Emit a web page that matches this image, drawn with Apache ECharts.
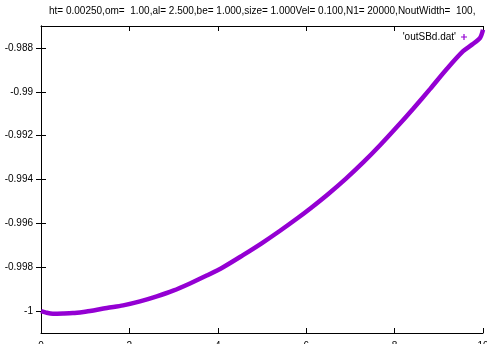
<!DOCTYPE html>
<html>
<head>
<meta charset="utf-8">
<script src="https://cdn.jsdelivr.net/npm/echarts@6/dist/echarts.min.js"></script>
<style>html,body{margin:0;padding:0;background:#fff;}#c{width:487px;height:344px;}</style>
</head>
<body>
<div id="c"></div>
<script>
var titleText = "ht= 0.00250,om=  1.00,al= 2.500,be= 1.000,size= 1.000Vel= 0.100,N1= 20000,NoutWidth=  100,";
var seriesName = "'outSBd.dat'";
var xValues = [0.00, 0.10, 0.27, 0.50, 0.72, 1.00, 1.11, 1.49, 1.86, 2.24, 2.62, 2.99, 3.37, 3.76, 4.12, 4.57, 5.00, 5.40, 5.80, 6.10, 6.50, 6.90, 7.30, 7.67, 8.05, 8.42, 8.80, 9.19, 9.55, 9.75, 9.93, 10.00];
var yValues = [-1.00000, -1.00006, -1.00012, -1.00011, -1.00009, -1.00003, -1.00000, -0.99986, -0.99974, -0.99956, -0.99933, -0.99907, -0.99874, -0.99837, -0.99800, -0.99745, -0.99690, -0.99635, -0.99577, -0.99531, -0.99466, -0.99396, -0.99320, -0.99244, -0.99161, -0.99077, -0.98988, -0.98894, -0.98815, -0.98785, -0.98755, -0.98717];
var yTicks = [-1, -0.998, -0.996, -0.994, -0.992, -0.99, -0.988];
var xTicks = [0, 2, 4, 6, 8, 10];

var data = xValues.map(function (x, i) { return [x, yValues[i]]; });
var font = 'Liberation Sans, Arial, sans-serif';
var chart = echarts.init(document.getElementById('c'), null, {renderer: 'canvas'});
function fmtY(v) { return String(parseFloat(Number(v).toFixed(4))); }
var lineStyleAxis = {color: '#000', width: 1};
chart.setOption({
  animation: false,
  backgroundColor: '#fff',
  title: {
    text: titleText, left: 49, top: 6,
    textStyle: {fontFamily: font, fontSize: 10, fontWeight: 'normal', color: '#000'},
    padding: 0
  },
  legend: {
    data: [{name: seriesName, icon: 'path://M4,0H6V4H10V6H6V10H4V6H0V4H4Z'}],
    right: 20, top: 32, align: 'right', itemWidth: 6, itemHeight: 6, itemGap: 6,
    textStyle: {fontFamily: font, fontSize: 10, color: '#000'},
    padding: 0
  },
  grid: {left: 41, right: 4, top: 26, bottom: 11, containLabel: false, outerBoundsMode: 'none'},
  xAxis: [{
    type: 'value', min: 0, max: 10, interval: 2,
    axisLine: {show: true, lineStyle: lineStyleAxis},
    axisTick: {show: true, inside: true, length: 5, lineStyle: lineStyleAxis, customValues: xTicks},
    axisLabel: {margin: 8, fontFamily: font, fontSize: 10, color: '#000', customValues: xTicks, hideOverlap: false},
    splitLine: {show: false}
  }, {
    type: 'value', position: 'top', min: 0, max: 10, interval: 2,
    axisLine: {show: true, lineStyle: lineStyleAxis},
    axisTick: {show: true, inside: true, length: 5, lineStyle: lineStyleAxis, customValues: xTicks},
    axisLabel: {show: false}, splitLine: {show: false}
  }],
  yAxis: [{
    type: 'value', min: -1.001, max: -0.987,
    axisLine: {show: true, lineStyle: lineStyleAxis},
    axisTick: {show: true, inside: true, length: 5, lineStyle: lineStyleAxis, customValues: yTicks},
    axisLabel: {margin: 8, fontFamily: font, fontSize: 10, color: '#000', customValues: yTicks, formatter: fmtY},
    splitLine: {show: false}
  }, {
    type: 'value', position: 'right', min: -1.001, max: -0.987,
    axisLine: {show: true, lineStyle: lineStyleAxis},
    axisTick: {show: true, inside: true, length: 5, lineStyle: lineStyleAxis, customValues: yTicks},
    axisLabel: {show: false}, splitLine: {show: false}
  }],
  series: [{
    name: seriesName, type: 'line', data: data, smooth: 0.3,
    showSymbol: false, symbol: 'none',
    itemStyle: {color: '#9400D3'},
    lineStyle: {color: '#9400D3', width: 4.5},
    xAxisIndex: 0, yAxisIndex: 0
  }]
});
</script>
</body>
</html>
